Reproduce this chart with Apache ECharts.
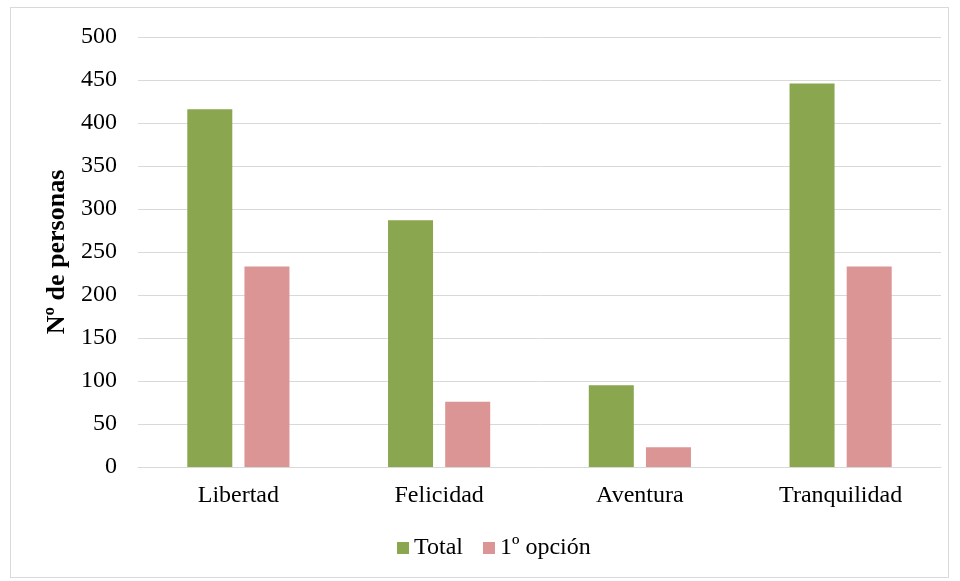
<!DOCTYPE html>
<html>
<head>
<meta charset="utf-8">
<script src="https://cdn.jsdelivr.net/npm/echarts@6/dist/echarts.min.js"></script>
<style>
  html, body { margin: 0; padding: 0; background: #fff; }
  #frame { position: absolute; left: 10px; top: 7px; width: 939px; height: 571px; border: 1px solid #d9d9d9; box-sizing: border-box; }
  #chart { width: 960px; height: 581px; position: absolute; left: 0; top: 0; }
</style>
</head>
<body>
<div id="frame"></div>
<div id="chart"></div>
<script>
const categories = ['Libertad', 'Felicidad', 'Aventura', 'Tranquilidad'];
const totalValues = [416, 287, 95, 446];
const firstChoiceValues = [233, 76, 23, 233];
const seriesNames = ['Total', '1º opción'];
const axisTitle = 'Nº de personas';

const font = '"Liberation Serif", "Times New Roman", serif';
const chart = echarts.init(document.getElementById('chart'), null, { renderer: 'canvas' });
chart.setOption({
  animation: false,
  textStyle: { fontFamily: font },
  grid: { left: 138, right: 19, top: 37, bottom: 114, containLabel: false },
  legend: {
    top: 531,
    left: 392,
    itemWidth: 12,
    itemHeight: 12,
    itemGap: 20,
    icon: 'rect',
    textStyle: { fontFamily: font, fontSize: 24, color: '#000' },
    data: seriesNames
  },
  xAxis: {
    type: 'category',
    data: categories,
    axisLine: { lineStyle: { color: '#d9d9d9', width: 1 } },
    axisTick: { show: false },
    axisLabel: { fontFamily: font, fontSize: 24, color: '#000', margin: 17 }
  },
  yAxis: {
    type: 'value',
    min: 0,
    max: 500,
    interval: 50,
    name: axisTitle,
    nameLocation: 'middle',
    nameGap: 56,
    nameTextStyle: { fontFamily: font, fontSize: 26, fontWeight: 'bold', color: '#000' },
    axisLine: { show: false },
    axisTick: { show: false },
    axisLabel: { fontFamily: font, fontSize: 24, color: '#000', margin: 21 },
    splitLine: { lineStyle: { color: '#d9d9d9', width: 1 } }
  },
  series: [
    {
      name: seriesNames[0],
      type: 'bar',
      data: totalValues,
      barWidth: 45,
      barGap: '27%',
      itemStyle: { color: '#8aa64e' }
    },
    {
      name: seriesNames[1],
      type: 'bar',
      data: firstChoiceValues,
      barWidth: 45,
      itemStyle: { color: '#da9594' }
    }
  ]
});
</script>
</body>
</html>
